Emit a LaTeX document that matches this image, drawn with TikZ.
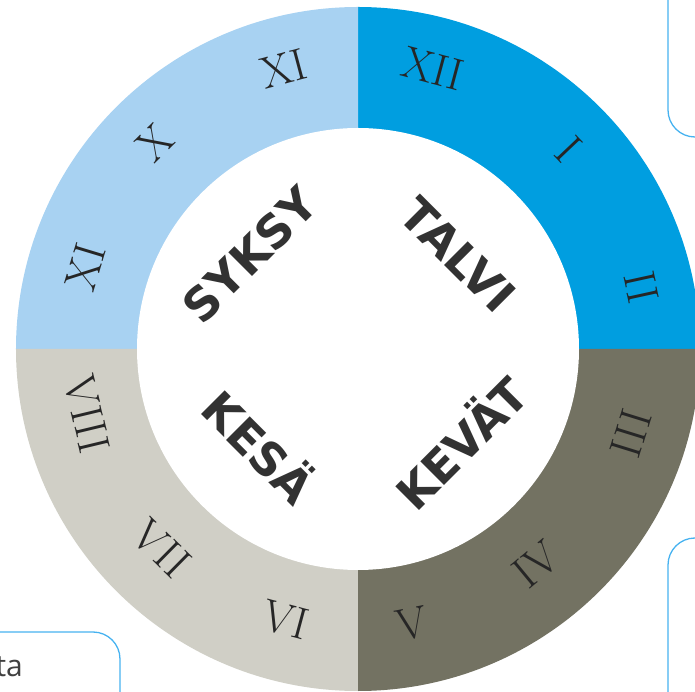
\documentclass[tikz,border=0pt]{standalone}
\usepackage{fontspec}
\usepackage{tikz}
\newfontfamily\seasonfont{DejaVu Sans}
\newfontfamily\notefont{Open Sans}
\definecolor{winter}{RGB}{0,158,224}
\definecolor{autumn}{RGB}{168,210,242}
\definecolor{summer}{RGB}{208,207,198}
\definecolor{spring}{RGB}{115,114,98}
\definecolor{frameblue}{RGB}{70,178,240}
\definecolor{ink}{RGB}{50,50,50}

\begin{document}
\begin{tikzpicture}[x=1pt, y=1pt,
  month/.style={font=\fontsize{45}{45}\selectfont, text=black!85, inner sep=0pt},
  season/.style={font=\seasonfont\bfseries\fontsize{46}{46}\selectfont, text=ink, inner sep=0pt},
  edge/.style={draw=frameblue, line width=1.3pt, rounded corners=27pt}]

\useasboundingbox (-358,-343) rectangle (337,349);
\clip (-358,-343) rectangle (337,349);

% --- ring, one quarter per season
\fill[winter] (0,0) -- (0:342) arc[start angle=0, end angle=90, radius=342pt] -- cycle;
\fill[autumn] (0,0) -- (90:342) arc[start angle=90, end angle=180, radius=342pt] -- cycle;
\fill[summer] (0,0) -- (180:342) arc[start angle=180, end angle=270, radius=342pt] -- cycle;
\fill[spring] (0,0) -- (270:342) arc[start angle=270, end angle=360, radius=342pt] -- cycle;
\fill[white] (0,0) circle[radius=221pt];

% --- months, upper half faces the centre, lower half faces out
\foreach \a/\r/\t [count=\i] in {75/290/XII, 43.5/290/I, 12.3/290/II,
    104.9/290/XI, 134.6/290/X, 163.2/285/XI}
  \node[month, rotate=\a-90] (top-\i) at (\a:\r) {\t};
\foreach \a/\r/\t [count=\i] in {-17.2/286/III, -50.4/280/IV, -78.9/280/V,
    -105/280/VI, -134.6/280/VII, -166.5/279/VIII}
  \node[month, rotate=\a+90] (low-\i) at (\a:\r) {\t};

% --- seasons
\node[season, rotate=45] (syksy) at (-108,94) {SYKSY};
\node[season, rotate=-45] (talvi) at (100,94) {TALVI};
\node[season, rotate=-45] (kesa) at (-97,-96) {KESÄ};
\node[season, rotate=45] (kevat) at (101,-92) {KEVÄT};

% --- cut-off boxes at the edges
\draw[edge] (310,360) -- (310,212) -- (350,212);
\draw[edge] (350,-189) -- (310,-189) -- (310,-360);
\draw[edge] (-370,-283) -- (-238,-283) -- (-238,-360);
\node[font=\notefont\fontsize{30}{30}\selectfont, text=black!75, anchor=base east,
  inner sep=0pt] (note) at (-335,-327) {ta};
\end{tikzpicture}
\end{document}
